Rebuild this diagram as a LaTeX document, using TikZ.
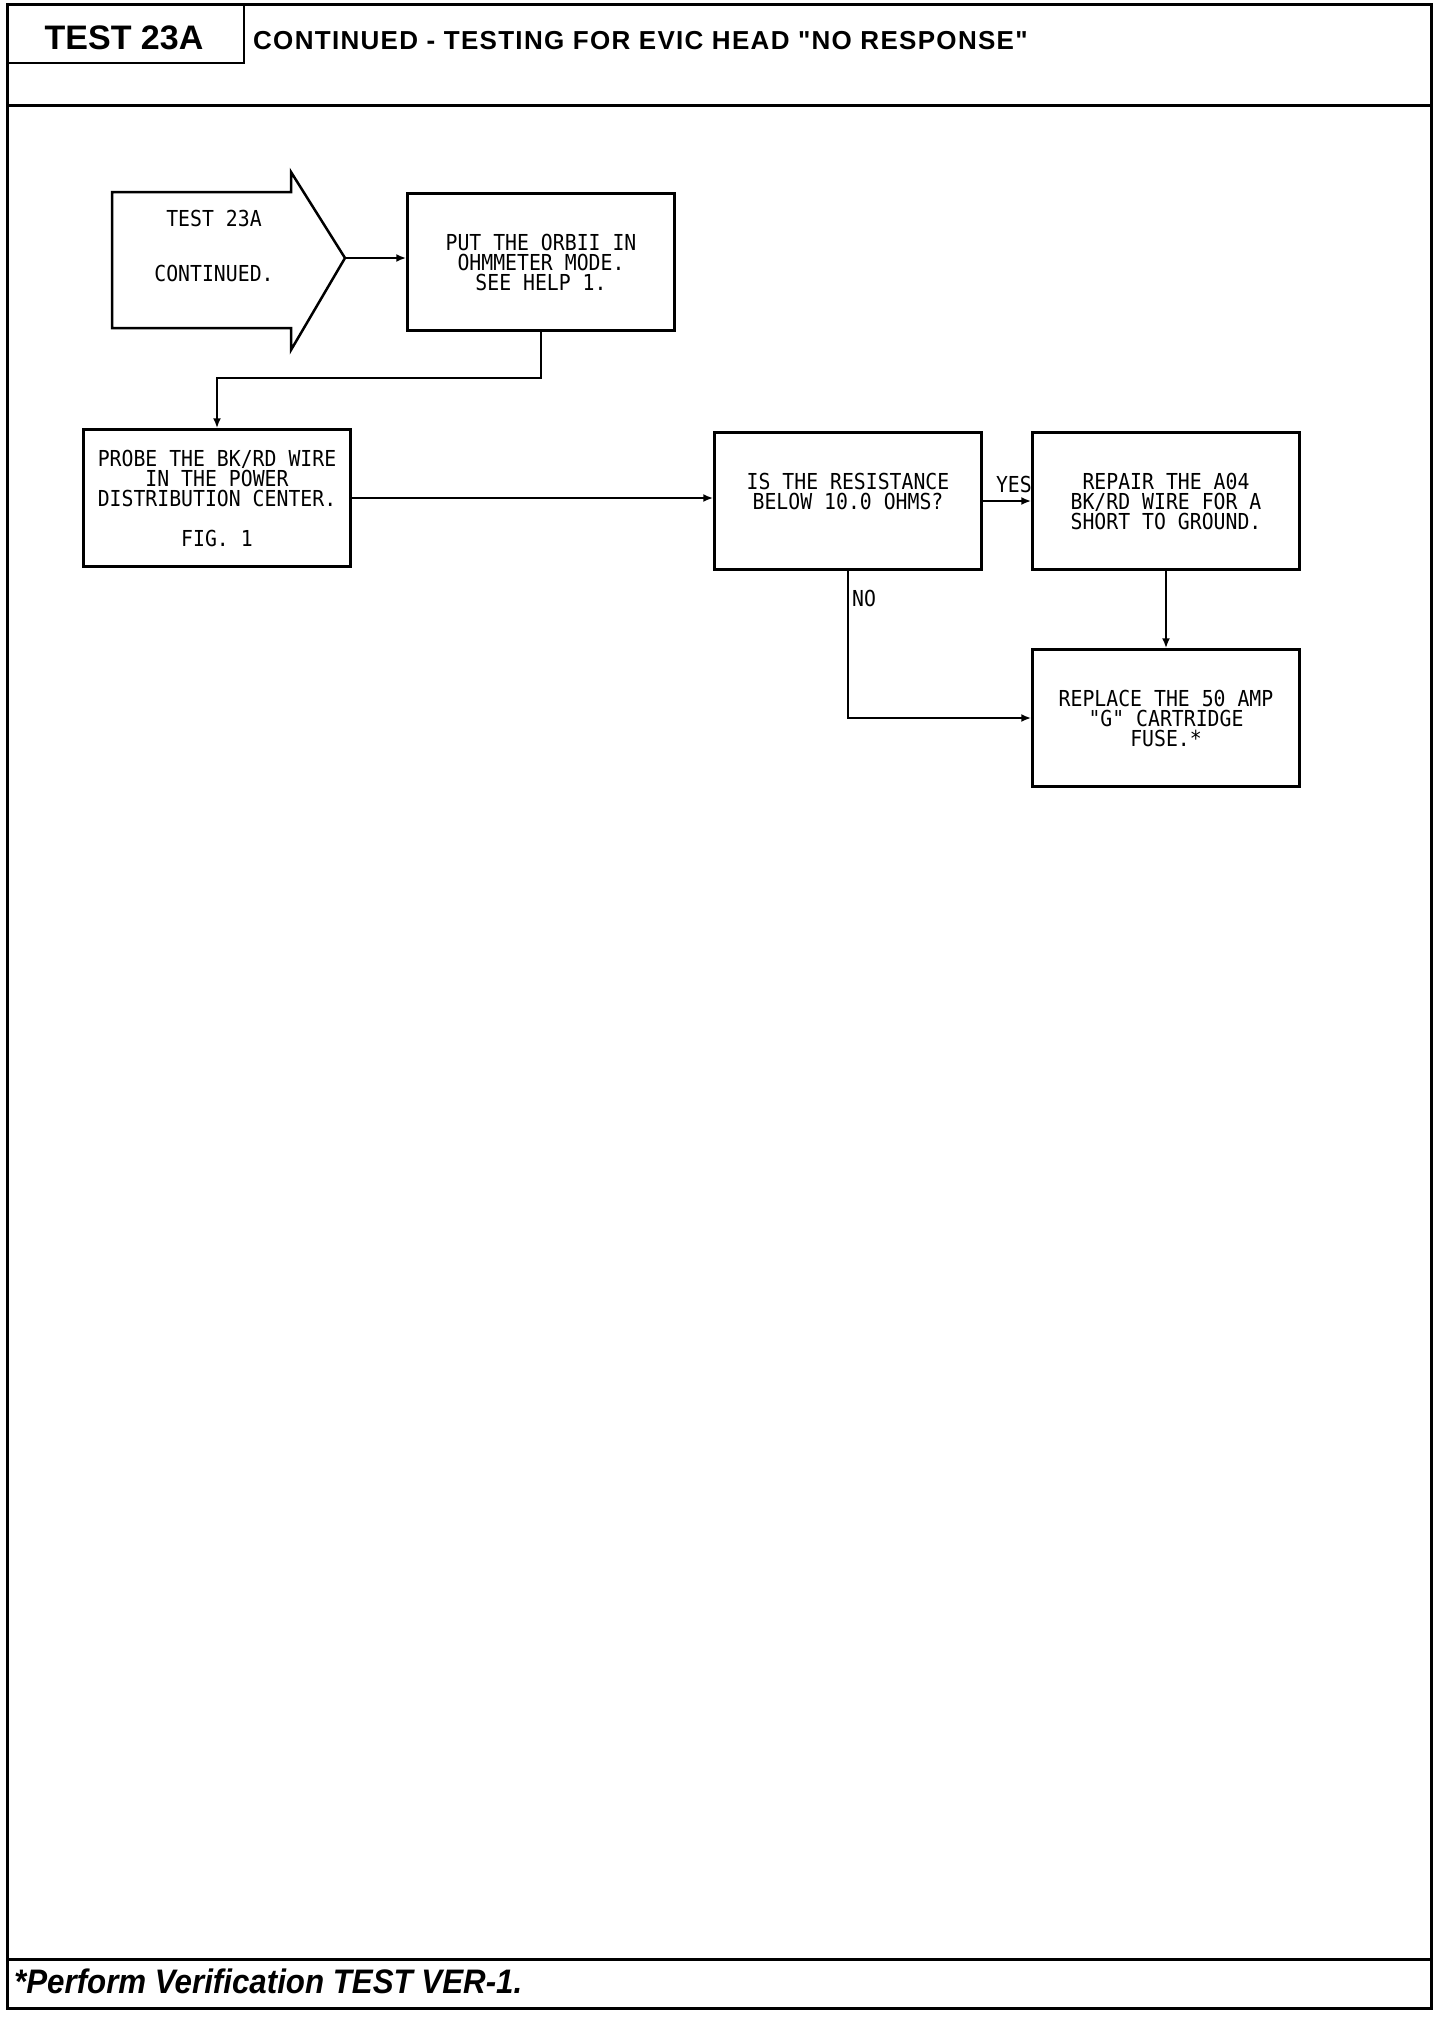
\documentclass[tikz,border=0pt]{standalone}
\usepackage{fontspec}
\newfontfamily\headfont{Liberation Sans}
\newfontfamily\plotfont[FakeStretch=0.9]{DejaVu Sans Mono}
\usetikzlibrary{arrows.meta}
\tikzset{
	stepbox/.style={draw, line width=2.5pt, minimum width=267pt, minimum height=137pt, align=center, inner sep=0pt, font=\plotfont\fontsize{22}{20}\selectfont},
	plotlabel/.style={inner sep=0pt, font=\plotfont\fontsize{22}{20}\selectfont},
	flow/.style={line width=2.2pt, -{Latex[length=10pt,width=8pt]}}
}
\begin{document}
\begin{tikzpicture}[x=1pt,y=-1pt]
	\useasboundingbox (0,0) rectangle (1440,2018);
	\draw[line width=3pt] (7,5) rectangle (1431,2008);
	\draw[line width=3pt] (7,105) -- (1431,105);
	\draw[line width=3pt] (7,1959) -- (1431,1959);
	\draw[line width=2.5pt] (244,5) -- (244,63) -- (7,63);
	\node[inner sep=0pt, anchor=base, font=\headfont\fontsize{34}{34}\selectfont\bfseries] (testno) at (124,50) {TEST 23A};
	\node[inner sep=0pt, anchor=base west, font=\headfont\addfontfeature{LetterSpace=5}\fontsize{26}{26}\selectfont\bfseries] (title) at (253,50) {CONTINUED - TESTING FOR EVIC HEAD "NO RESPONSE"};
	\node[inner sep=0pt, anchor=base west, font=\headfont\addfontfeature{FakeStretch=0.92}\fontsize{34}{34}\selectfont\bfseries\itshape] (verify) at (14,1993) {*Perform Verification TEST VER-1.};
	\draw[line width=2.5pt, line join=miter] (112,192) -- (291,192) -- (291,172) -- (345,258) -- (291,350) -- (291,328) -- (112,328) -- cycle;
	\coordinate (conttip) at (345,258);
	\node[plotlabel, align=center] (cont) at (214,246) {TEST 23A\\[35pt]CONTINUED.};
	\node[stepbox] (orbii) at (541,262) {PUT THE ORBII IN\\OHMMETER MODE.\\SEE HELP 1.};
	\node[stepbox] (probe) at (217,498) {PROBE THE BK/RD WIRE\\IN THE POWER\\DISTRIBUTION CENTER.\\[20pt]FIG. 1};
	\node[stepbox] (resist) at (848,501) {IS THE RESISTANCE\\BELOW 10.0 OHMS?\\\mbox{}};
	\node[stepbox] (repair) at (1166,501) {REPAIR THE A04\\BK/RD WIRE FOR A\\SHORT TO GROUND.};
	\node[stepbox] (fuse) at (1166,718) {REPLACE THE 50 AMP\\"G" CARTRIDGE\\FUSE.*};
	\node[plotlabel, anchor=east] (yes) at (1032,484) {YES};
	\node[plotlabel, anchor=west] (no) at (852,598) {NO};
	\draw[flow] (conttip) -- (conttip -| orbii.west);
	\draw[flow] (orbii.south) -- ++(0,46) -| (probe.north);
	\draw[flow] (probe.east) -- (probe.east -| resist.west);
	\draw[flow] (resist.east) -- (repair.west);
	\draw[flow] (repair) -- (fuse);
	\draw[flow] (resist.south) |- (fuse.west);
\end{tikzpicture}
\end{document}
